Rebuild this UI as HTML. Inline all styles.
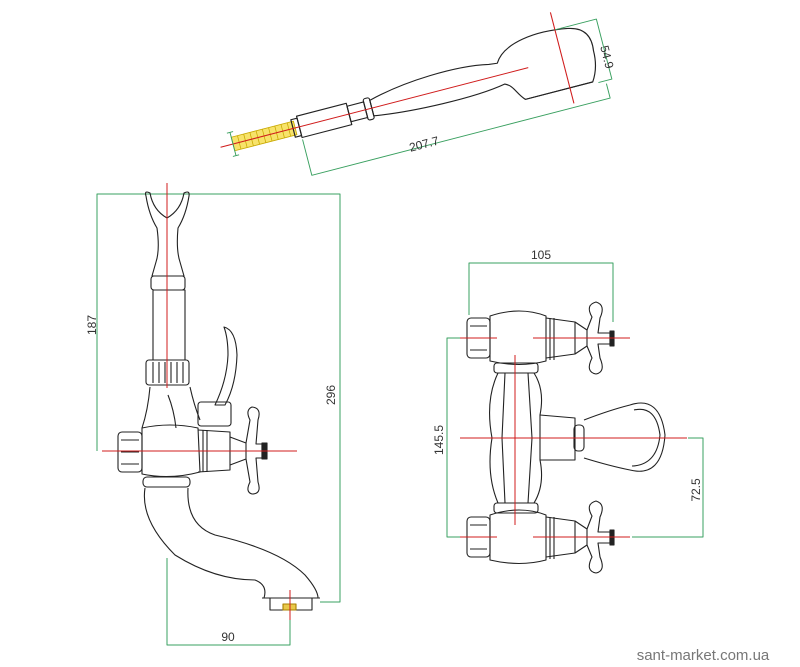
<!DOCTYPE html>
<html><head><meta charset="utf-8"><style>
html,body{margin:0;padding:0;background:#fff;}
svg{display:block;}
text{font-family:"Liberation Sans",sans-serif;fill:#333;}
</style></head><body>
<svg width="800" height="667" viewBox="0 0 800 667" xmlns="http://www.w3.org/2000/svg">
<g fill="none" stroke-linejoin="round">

<!-- ============ HAND SHOWER ============ -->
<g transform="translate(233,144) rotate(-14.5) scale(1.07,1)">
  <rect x="0" y="-7" width="60" height="14" fill="#f7e36a" stroke="#c8a800" stroke-width="0.8"/>
  <g stroke="#c8a800" stroke-width="0.7">
    <path d="M6 -7v14M12 -7v14M18 -7v14M24 -7v14M30 -7v14M36 -7v14M42 -7v14M48 -7v14M54 -7v14"/>
  </g>
  <g stroke="#222" stroke-width="1.1">
    <rect x="58" y="-9" width="6" height="18"/>
    <path d="M64 -11 L112 -11 L112 11 L64 11 Z"/>
    <path d="M112 -8 L128 -8 L128 8 L112 8 Z"/>
    <rect x="128" y="-11" width="6" height="22" rx="2"/>
    <path d="M134 -8 C170 -18 220 -20 250 -13 L258 -12 C268 -30 300 -34 330 -28 C345 -25 350 -15 348 0 C348 12 345 22 340 30 L275 30 C268 22 268 14 260 10 C230 16 170 14 134 8 Z"/>
    <path d="M275 30 L340 30"/>
  </g>
  <path d="M-12 0 L285 0" stroke="#d01c1c" stroke-width="1"/>
  <path d="M318 -48 L318 46" stroke="#d01c1c" stroke-width="1"/>
  <g stroke="#3aa060" stroke-width="0.9">
    <path d="M0 -12 L0 12M-3 -12h6M-3 12h6"/>
    <path d="M64 13 L64 50 L352 50 L352 35"/>
    <path d="M318 -30 L358 -30 L358 32 L345 32"/>
  </g>
</g>
<text transform="translate(425,148) rotate(-14.5)" font-size="12" text-anchor="middle">207.7</text>
<text transform="translate(603,58) rotate(75.5)" font-size="12" text-anchor="middle">54.9</text>

<!-- ============ SIDE VIEW ============ -->
<g stroke="#3aa060" stroke-width="1">
  <path d="M97 451 L97 194 L340 194 L340 602 L320 602"/>
  <path d="M167 558 L167 645 L290 645 L290 590"/>
</g>
<text transform="translate(96,325) rotate(-90)" font-size="12" text-anchor="middle">187</text>
<text transform="translate(335,395) rotate(-90)" font-size="12" text-anchor="middle">296</text>
<text x="228" y="641" font-size="12" text-anchor="middle">90</text>

<g stroke="#222" stroke-width="1.1">
  <path d="M146 196 Q144 190 150 193 Q153 210 167 218 Q181 210 184 193 Q190 190 189 196 Q186 215 178 228 Q176 250 180 262 L184 276 L152 276 L156 262 Q160 250 157 228 Q149 215 146 196 Z"/>
  <rect x="151" y="276" width="34" height="14" rx="3"/>
  <rect x="153" y="290" width="32" height="70"/>
  <rect x="146" y="360" width="43" height="25" rx="3"/>
  <path d="M153 362v21M159 362v21M165 362v21M171 362v21M177 362v21M183 362v21"/>
  <path d="M224 327 Q236 330 237 355 Q236 385 225 405 L215 405 Q227 380 228 355 Q228 338 224 327 Z"/>
  <path d="M150 387 Q148 410 142 428 M190 387 Q194 405 200 420"/>
  <path d="M168 395 Q174 410 176 428"/>
  <rect x="198" y="402" width="33" height="24" rx="3"/>
  <path d="M142 428 Q170 422 198 428 L200 472 Q170 480 142 474 Z"/>
  <rect x="118" y="432" width="24" height="40" rx="4"/>
  <path d="M121 440h18M121 452h18M121 464h18"/>
  <path d="M198 430 L230 432 L230 470 L198 472"/>
  <path d="M203 430v42M207 430v42"/>
  <path d="M230 437 L246 443 L246 459 L230 465"/>
  <path d="M246 443 L250 420 Q245 410 252 407 Q262 408 258 420 L256 444 L262 444 L262 458 L256 458 L258 482 Q262 494 252 494 Q245 492 250 482 L246 459"/>
  <rect x="262" y="443" width="5" height="16" fill="#222"/>
  <rect x="143" y="477" width="47" height="10" rx="4"/>
  <path d="M145 488 Q140 520 175 555 Q215 580 255 580 Q268 585 264 598"/>
  <path d="M188 488 Q186 525 215 535 Q280 550 305 575 Q318 590 318 598"/>
  <path d="M262 598 L320 598"/>
  <rect x="270" y="598" width="42" height="12"/>
  <rect x="283" y="604" width="13" height="6" fill="#e8c84a" stroke="#a88000"/>
</g>
<g stroke="#d01c1c" stroke-width="1">
  <path d="M167 183 L167 388"/>
  <path d="M102 451 L297 451"/>
  <path d="M290 590 L290 620"/>
</g>

<!-- ============ FRONT VIEW ============ -->
<g stroke="#3aa060" stroke-width="1">
  <path d="M469 315 L469 263 L613 263 L613 322"/>
  <path d="M462 338 L447 338 L447 537 L470 537"/>
  <path d="M688 438 L703 438 L703 537 L632 537"/>
</g>
<text x="541" y="259" font-size="12" text-anchor="middle">105</text>
<text transform="translate(443,440) rotate(-90)" font-size="12" text-anchor="middle">145.5</text>
<text transform="translate(700,490) rotate(-90)" font-size="12" text-anchor="middle">72.5</text>

<g stroke="#222" stroke-width="1.1">
  <rect x="494" y="363" width="44" height="10" rx="3"/>
  <rect x="494" y="503" width="44" height="10" rx="3"/>
  <path d="M498 373 Q485 400 492 438 Q486 475 498 503"/>
  <path d="M534 373 Q545 390 540 415 L540 460 Q545 485 534 503"/>
  <path d="M505 373 L502 438 L505 503 M528 373 L532 438 L528 503"/>
  <path d="M540 415 L575 418 L575 460 L540 460"/>
  <rect x="574" y="425" width="10" height="26" rx="4"/>
  <path d="M584 420 Q610 410 630 405 M584 458 Q610 466 630 470"/>
  <path d="M630 405 Q660 395 665 435 Q662 478 630 470"/>
  <path d="M634 410 Q656 405 660 435 Q657 465 632 466"/>
</g>
<g id="valve" stroke="#222" stroke-width="1.1">
  <rect x="467" y="318" width="23" height="40" rx="4"/>
  <path d="M470 326h17M470 338h17M470 350h17"/>
  <path d="M490 316 Q520 306 546 316 L546 361 Q520 368 490 361 Z"/>
  <path d="M546 318 L575 322 L575 354 L546 358"/>
  <path d="M550 318v42M554 318v42"/>
  <path d="M575 322 L587 330 L587 346 L575 354"/>
  <path d="M587 330 L592 317 Q585 305 596 302 Q606 305 600 318 L598 333 L610 333 L610 344 L598 344 L600 358 Q606 372 596 374 Q585 372 592 358 L587 346"/>
  <rect x="610" y="331" width="4" height="15" fill="#222"/>
</g>
<use href="#valve" transform="translate(0,199)"/>
<g stroke="#d01c1c" stroke-width="1">
  <path d="M460 338 L497 338 M533 338 L630 338"/>
  <path d="M460 537 L497 537 M533 537 L630 537"/>
  <path d="M460 438 L687 438"/>
  <path d="M515 355 L515 525"/>
</g>
</g>

<text x="703" y="660" font-size="15" text-anchor="middle" style="fill:#777">sant-market.com.ua</text>
</svg>
</body></html>
